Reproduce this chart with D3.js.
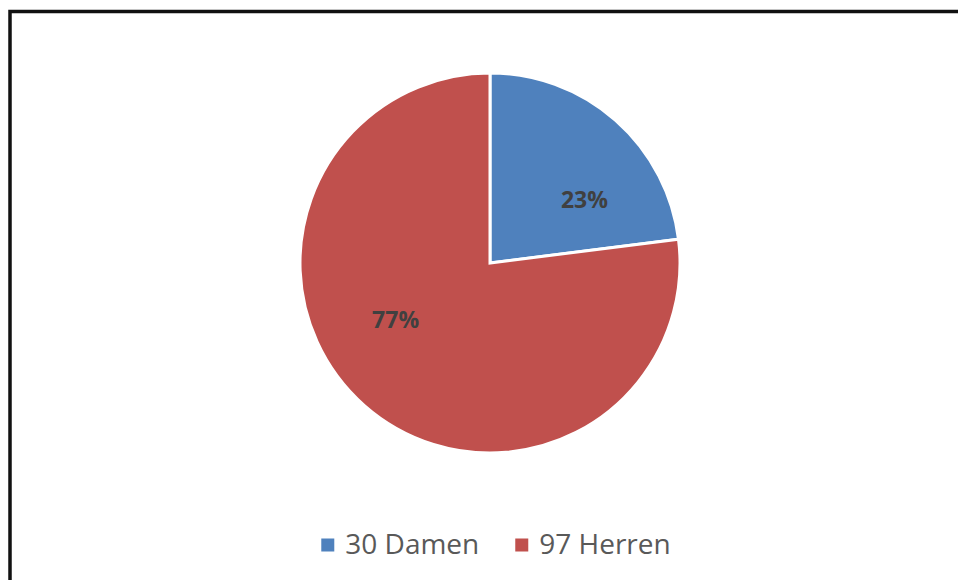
<!DOCTYPE html>
<html><head><meta charset="utf-8">
<script src="https://cdn.jsdelivr.net/npm/d3@7"></script>
<style>html,body{margin:0;padding:0;background:#fff;overflow:hidden}</style>
</head><body>
<svg id="c" width="958" height="580"></svg>
<script>
const categories = ["30 Damen", "97 Herren"];
const values = [23, 77];
const colors = ["#4F81BD", "#C0504D"];

const svg = d3.select("#c");
const cx = 490, cy = 263, R = 190;

svg.append("rect").attr("x", 10).attr("y", 11.5).attr("width", 1200).attr("height", 1200)
  .attr("fill", "#fff").attr("stroke", "#111").attr("stroke-width", 3.5);

const pie = d3.pie().sort(null).value(d => d)(values);
const arc = d3.arc().innerRadius(0).outerRadius(R);
const g = svg.append("g").attr("transform", `translate(${cx},${cy})`);
g.selectAll("path").data(pie).join("path")
  .attr("d", arc).attr("fill", (d, i) => colors[i])
  .attr("stroke", "#fff").attr("stroke-width", 3).attr("stroke-linejoin", "miter");

const total = d3.sum(values);
const labelR = 112, angOff = 0.28;
g.selectAll("text.lbl").data(pie).join("text").attr("class", "lbl")
  .each(function(d) {
    const a = (d.startAngle + d.endAngle) / 2 + angOff;
    d3.select(this).attr("x", labelR * Math.sin(a)).attr("y", -labelR * Math.cos(a) - 4);
  })
  .attr("text-anchor", "middle").attr("dominant-baseline", "central")
  .attr("font-family", "'Open Sans', sans-serif").attr("font-weight", "bold")
  .attr("font-size", 23).attr("fill", "#404040")
  .text(d => Math.round(d.data / total * 100) + "%");

// legend
const leg = svg.append("g");
const fs = 28, sq = 13, gapSq = 11, gapItem = 36;
const items = leg.selectAll("g").data(categories).join("g");
items.append("rect").attr("width", sq).attr("height", sq).attr("y", -sq / 2 - 9)
  .attr("fill", (d, i) => colors[i]);
items.append("text").attr("x", sq + gapSq).attr("y", 0)
  .attr("font-family", "'Open Sans', sans-serif").attr("font-size", fs).attr("fill", "#595959")
  .text(d => d);
let x = 0;
items.each(function() {
  d3.select(this).attr("transform", `translate(${x},0)`);
  x += this.getBBox().width + gapItem;
});
const legW = x - gapItem;
leg.attr("transform", `translate(${496 - legW / 2},554)`);
</script>
</body></html>
